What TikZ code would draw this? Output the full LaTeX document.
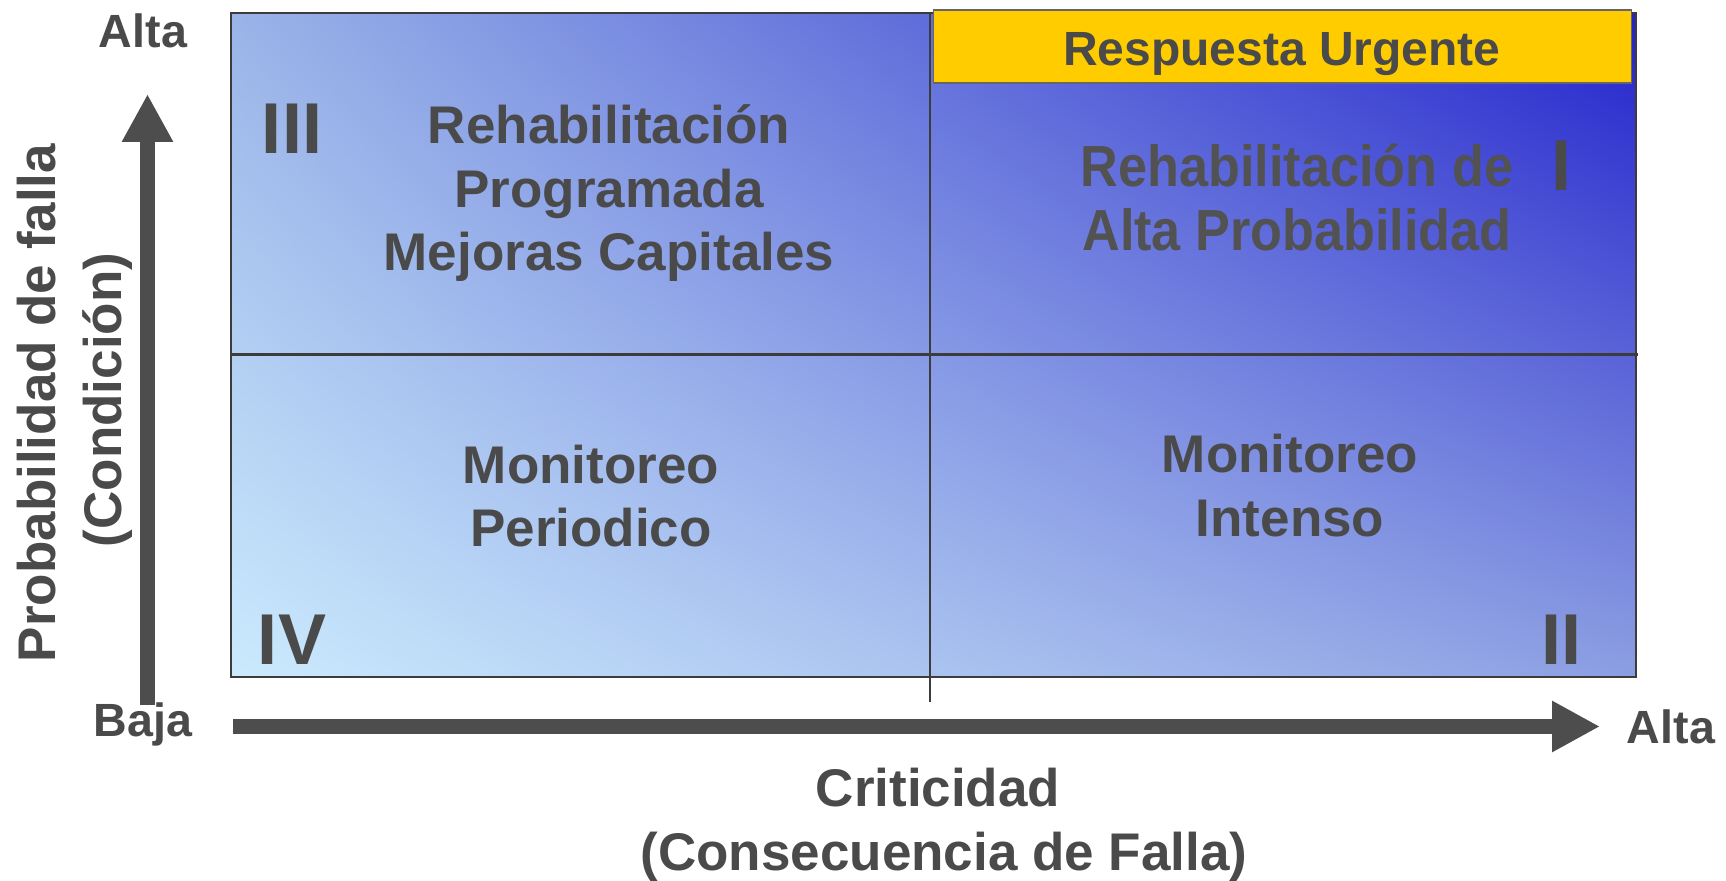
\documentclass[tikz,border=0pt]{standalone}
\usepackage{fontspec}
\setmainfont{Liberation Sans}
\usetikzlibrary{arrows.meta,shadings}
\definecolor{txt}{HTML}{4A4A4A}
\definecolor{txtb}{HTML}{525252}
\definecolor{arrowgrey}{HTML}{4D4D4D}
\definecolor{framegrey}{HTML}{3C3C3C}
\definecolor{urgent}{HTML}{FFCC00}
\definecolor{cLL}{HTML}{CBEAFD}
\definecolor{cUR}{HTML}{2222CC}
\definecolor{cUL}{HTML}{9AB4E8}
\definecolor{cLR}{HTML}{8C9EE2}
\begin{document}
\begin{tikzpicture}[x=0.5pt,y=-0.5pt,
  lbl/.style={font=\bfseries\fontsize{26.5}{30}\selectfont, text=txt, inner sep=0pt, anchor=base},
  axlbl/.style={font=\bfseries\fontsize{23.3}{27}\selectfont, text=txt, inner sep=0pt, anchor=base},
  roman/.style={font=\bfseries\fontsize{36}{40}\selectfont, text=txt, inner sep=0pt, anchor=base},
  divline/.style={draw=framegrey, line width=1.3pt},
  axisarrow/.style={draw=arrowgrey, line width=7.5pt, -{Triangle[length=24pt,width=24pt]}}
]
\useasboundingbox[fill=white] (0,0) rectangle (1726,881);

% shaded matrix
\shade[lower left=cLL, upper right=cUR, upper left=cUL, lower right=cLR]
  (231,13) rectangle (1636,677);
\draw[divline] (930,13) -- (930,702);
\draw[divline] (231,354.5) -- (1638,354.5);
\draw[draw=framegrey, line width=1.2pt] (231,13) rectangle (1636,677);

% urgent box
\draw[fill=urgent, draw=gray!80!black, line width=0.8pt] (933.5,10) rectangle (1631.5,83);
\node[font=\bfseries\fontsize{24}{28}\selectfont, text=txt, inner sep=0pt, anchor=base] (urg) at (1282,66) {Respuesta Urgente};

% axes
\coordinate (ybot) at (147.5,705);
\coordinate (ytop) at (147.5,94);
\coordinate (xl) at (233,726.5);
\coordinate (xr) at (1600,726.5);
\draw[axisarrow] (ybot) -- (ytop);
\draw[axisarrow] (xl) -- (xr);

% axis labels
\node[axlbl] (altaY) at (143,48) {Alta};
\node[axlbl] (baja) at (143,737) {Baja};
\node[axlbl] (altaX) at (1671,744) {Alta};
\node[lbl] (crit) at (938,807) {Criticidad};
\node[lbl] (cons) at (944,871) {(Consecuencia de Falla)};
\node[lbl, rotate=90] (prob) at (55,403) {Probabilidad de falla};
\node[lbl, rotate=90] (cond) at (121,400) {(Condición)};

% quadrant III
\node[roman] (q3) at (292,154) {III};
\node[lbl] (t3a) at (609,144) {Rehabilitación};
\node[lbl] (t3b) at (609,208) {Programada};
\node[lbl] (t3c) at (609,271) {Mejoras Capitales};

% quadrant I
\node[lbl, font=\bfseries\fontsize{29}{32}\selectfont, text=txtb] (t1a) at (1297,187) {\scalebox{0.9}[1]{Rehabilitación de}};
\node[lbl, font=\bfseries\fontsize{29}{32}\selectfont, text=txtb] (t1b) at (1297,251) {\scalebox{0.9}[1]{Alta Probabilidad}};
\node[roman] (q1) at (1561,191) {I};

% quadrant IV
\node[roman] (q4) at (292,665) {IV};
\node[lbl] (t4a) at (591,484) {Monitoreo};
\node[lbl] (t4b) at (591,547) {Periodico};

% quadrant II
\node[roman] (q2) at (1561,665) {II};
\node[lbl] (t2a) at (1290,473) {Monitoreo};
\node[lbl] (t2b) at (1290,537) {Intenso};
\end{tikzpicture}
\end{document}
